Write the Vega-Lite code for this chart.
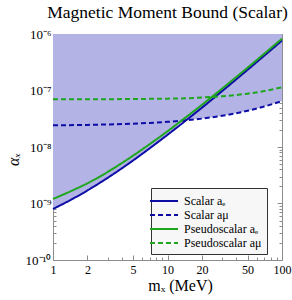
{
  "$schema": "https://vega.github.io/schema/vega-lite/v6.json",
  "width": 229,
  "height": 226,
  "autosize": {"type": "none"},
  "padding": {"left": 53, "top": 34, "right": 10, "bottom": 40},
  "background": "white",
  "title": {"text": "Magnetic Moment Bound (Scalar)", "font": "Liberation Serif", "fontSize": 17.5, "fontWeight": "normal", "color": "#000000", "anchor": "middle", "offset": 1, "dy": -6},
  "config": {
    "view": {"stroke": "#8c8c8c", "strokeWidth": 1},
    "axis": {"grid": false, "domain": false, "tickColor": "#8c8c8c", "labelFont": "Liberation Serif", "labelColor": "#000000", "labelFontSize": 12, "titleFont": "Liberation Serif", "titleColor": "#000000", "titleFontWeight": "normal", "labelFlush": false, "labelOverlap": false}
  },
  "datasets": {
    "shade": [
      {"m": 1, "lo": 8.0e-10}, {"m": 1.5, "lo": 1.222e-9}, {"m": 2, "lo": 1.703e-9}, {"m": 3, "lo": 2.845e-9},
      {"m": 5, "lo": 5.77e-9}, {"m": 7, "lo": 9.5e-9}, {"m": 10, "lo": 1.643e-8}, {"m": 14.5, "lo": 2.96e-8},
      {"m": 15, "lo": 2.983e-8}, {"m": 20, "lo": 3.181e-8}, {"m": 30, "lo": 3.574e-8}, {"m": 50, "lo": 4.376e-8},
      {"m": 70, "lo": 5.206e-8}, {"m": 100, "lo": 6.513e-8}
    ],
    "curves": [
      {"m": 1, "v": 8.0e-10, "s": "Scalar aₑ"}, {"m": 1.5, "v": 1.222e-9, "s": "Scalar aₑ"}, {"m": 2, "v": 1.703e-9, "s": "Scalar aₑ"},
      {"m": 3, "v": 2.845e-9, "s": "Scalar aₑ"}, {"m": 5, "v": 5.77e-9, "s": "Scalar aₑ"}, {"m": 7, "v": 9.5e-9, "s": "Scalar aₑ"},
      {"m": 10, "v": 1.643e-8, "s": "Scalar aₑ"}, {"m": 15, "v": 3.125e-8, "s": "Scalar aₑ"}, {"m": 20, "v": 4.97e-8, "s": "Scalar aₑ"},
      {"m": 30, "v": 9.77e-8, "s": "Scalar aₑ"}, {"m": 50, "v": 2.32e-7, "s": "Scalar aₑ"}, {"m": 70, "v": 4.135e-7, "s": "Scalar aₑ"},
      {"m": 100, "v": 7.67e-7, "s": "Scalar aₑ"},
      {"m": 1, "v": 2.421e-8, "s": "Scalar aμ"}, {"m": 2, "v": 2.463e-8, "s": "Scalar aμ"}, {"m": 3, "v": 2.505e-8, "s": "Scalar aμ"},
      {"m": 5, "v": 2.588e-8, "s": "Scalar aμ"}, {"m": 7, "v": 2.67e-8, "s": "Scalar aμ"}, {"m": 10, "v": 2.788e-8, "s": "Scalar aμ"},
      {"m": 15, "v": 2.983e-8, "s": "Scalar aμ"}, {"m": 20, "v": 3.181e-8, "s": "Scalar aμ"}, {"m": 30, "v": 3.574e-8, "s": "Scalar aμ"},
      {"m": 50, "v": 4.376e-8, "s": "Scalar aμ"}, {"m": 70, "v": 5.206e-8, "s": "Scalar aμ"}, {"m": 100, "v": 6.513e-8, "s": "Scalar aμ"},
      {"m": 1, "v": 1.202e-9, "s": "Pseudoscalar aₑ"}, {"m": 1.5, "v": 1.726e-9, "s": "Pseudoscalar aₑ"}, {"m": 2, "v": 2.28e-9, "s": "Pseudoscalar aₑ"},
      {"m": 3, "v": 3.614e-9, "s": "Pseudoscalar aₑ"}, {"m": 5, "v": 7.02e-9, "s": "Pseudoscalar aₑ"}, {"m": 7, "v": 1.126e-8, "s": "Pseudoscalar aₑ"},
      {"m": 10, "v": 1.898e-8, "s": "Pseudoscalar aₑ"}, {"m": 15, "v": 3.55e-8, "s": "Pseudoscalar aₑ"}, {"m": 20, "v": 5.58e-8, "s": "Pseudoscalar aₑ"},
      {"m": 30, "v": 1.081e-7, "s": "Pseudoscalar aₑ"}, {"m": 50, "v": 2.53e-7, "s": "Pseudoscalar aₑ"}, {"m": 70, "v": 4.48e-7, "s": "Pseudoscalar aₑ"},
      {"m": 100, "v": 8.26e-7, "s": "Pseudoscalar aₑ"},
      {"m": 1, "v": 6.98e-8, "s": "Pseudoscalar aμ"}, {"m": 2, "v": 7.0e-8, "s": "Pseudoscalar aμ"}, {"m": 3, "v": 7.02e-8, "s": "Pseudoscalar aμ"},
      {"m": 5, "v": 7.06e-8, "s": "Pseudoscalar aμ"}, {"m": 7, "v": 7.11e-8, "s": "Pseudoscalar aμ"}, {"m": 10, "v": 7.17e-8, "s": "Pseudoscalar aμ"},
      {"m": 15, "v": 7.31e-8, "s": "Pseudoscalar aμ"}, {"m": 20, "v": 7.51e-8, "s": "Pseudoscalar aμ"}, {"m": 30, "v": 7.9e-8, "s": "Pseudoscalar aμ"},
      {"m": 50, "v": 8.8e-8, "s": "Pseudoscalar aμ"}, {"m": 70, "v": 9.79e-8, "s": "Pseudoscalar aμ"}, {"m": 100, "v": 1.14e-7, "s": "Pseudoscalar aμ"}
    ]
  },
  "layer": [
    {
      "data": {"name": "shade"},
      "mark": {"type": "area", "color": "#b3b3e6", "opacity": 1, "interpolate": "monotone"},
      "encoding": {
        "x": {"field": "m", "type": "quantitative", "scale": {"type": "log", "domain": [1, 100], "nice": false},
          "axis": {"orient": "bottom", "values": [1,2,3,4,5,6,7,8,9,10,20,30,40,50,60,70,80,90,100],
            "labelExpr": "indexof([1,2,5,10,20,50,100], datum.value) >= 0 ? format(datum.value, 'd') : ''",
            "tickSize": {"condition": {"test": "indexof([1,2,5,10,20,50,100], datum.value) >= 0", "value": -5}, "value": -3},
            "labelPadding": 9, "title": "mₓ (MeV)", "titleFontSize": 16, "titleX": 127, "titleY": 25, "titleBaseline": "middle", "titleAlign": "center"}},
        "y": {"field": "lo", "type": "quantitative", "scale": {"type": "log", "domain": [1e-10, 1e-6], "nice": false},
          "axis": {"orient": "left",
            "values": [1e-10,2e-10,3e-10,4e-10,5e-10,6e-10,7e-10,8e-10,9e-10,1e-9,2e-9,3e-9,4e-9,5e-9,6e-9,7e-9,8e-9,9e-9,1e-8,2e-8,3e-8,4e-8,5e-8,6e-8,7e-8,8e-8,9e-8,1e-7,2e-7,3e-7,4e-7,5e-7,6e-7,7e-7,8e-7,9e-7,1e-6],
            "labelExpr": "abs(log(datum.value)/LN10 - round(log(datum.value)/LN10)) > 0.01 ? '' : round(log(datum.value)/LN10) == -6 ? '10⁻⁶' : round(log(datum.value)/LN10) == -7 ? '10⁻⁷' : round(log(datum.value)/LN10) == -8 ? '10⁻⁸' : round(log(datum.value)/LN10) == -9 ? '10⁻⁹' : '10⁻¹⁰'",
            "tickSize": {"condition": {"test": "abs(log(datum.value)/LN10 - round(log(datum.value)/LN10)) < 0.01", "value": -5}, "value": -3},
            "labelPadding": 7, "labelFontSize": 13, "title": "αₓ", "titleFontSize": 16, "titleAngle": -90, "titleFontStyle": "italic", "titleX": -40, "titleY": 125, "titleAlign": "center", "titleBaseline": "middle"}},
        "y2": {"datum": 1e-6}
      }
    },
    {
      "data": {"name": "curves"},
      "mark": {"type": "line", "strokeWidth": 2, "interpolate": "monotone"},
      "encoding": {
        "x": {"field": "m", "type": "quantitative", "scale": {"type": "log", "domain": [1, 100], "nice": false},
          "axis": {"orient": "top", "values": [1,2,3,4,5,6,7,8,9,10,20,30,40,50,60,70,80,90,100], "labels": false, "title": null,
            "tickSize": {"condition": {"test": "indexof([1,2,5,10,20,50,100], datum.value) >= 0", "value": -5}, "value": -3}}},
        "y": {"field": "v", "type": "quantitative", "scale": {"type": "log", "domain": [1e-10, 1e-6], "nice": false},
          "axis": {"orient": "right", "labels": false, "title": null,
            "values": [1e-10,2e-10,3e-10,4e-10,5e-10,6e-10,7e-10,8e-10,9e-10,1e-9,2e-9,3e-9,4e-9,5e-9,6e-9,7e-9,8e-9,9e-9,1e-8,2e-8,3e-8,4e-8,5e-8,6e-8,7e-8,8e-8,9e-8,1e-7,2e-7,3e-7,4e-7,5e-7,6e-7,7e-7,8e-7,9e-7,1e-6],
            "tickSize": {"condition": {"test": "abs(log(datum.value)/LN10 - round(log(datum.value)/LN10)) < 0.01", "value": -5}, "value": -3}}},
        "color": {"field": "s", "type": "nominal",
          "scale": {"domain": ["Scalar aₑ", "Scalar aμ", "Pseudoscalar aₑ", "Pseudoscalar aμ"], "range": ["#0d0da6", "#0d0da6", "#1ea61e", "#1ea61e"]},
          "legend": {"title": null, "orient": "none", "legendX": 98, "legendY": 154, "fillColor": "#f7f7f7", "strokeColor": "#333333", "padding": 5,
            "symbolType": "M-2,0H2", "symbolSize": 196, "symbolStrokeWidth": 2, "labelFont": "Liberation Serif", "labelFontSize": 12, "labelColor": "#000000", "rowPadding": 0, "labelOffset": 12, "labelLimit": 200}},
        "strokeDash": {"field": "s", "type": "nominal",
          "scale": {"domain": ["Scalar aₑ", "Scalar aμ", "Pseudoscalar aₑ", "Pseudoscalar aμ"], "range": [[1, 0], [5, 3], [1, 0], [5, 3]]},
          "legend": {"title": null, "orient": "none", "legendX": 98, "legendY": 154, "fillColor": "#f7f7f7", "strokeColor": "#333333", "padding": 5,
            "symbolType": "M-2,0H2", "symbolSize": 196, "symbolStrokeWidth": 2, "labelFont": "Liberation Serif", "labelFontSize": 12, "labelColor": "#000000", "rowPadding": 0, "labelOffset": 12, "labelLimit": 200}}
      }
    }
  ],
  "resolve": {"axis": {"x": "independent", "y": "independent"}}
}
